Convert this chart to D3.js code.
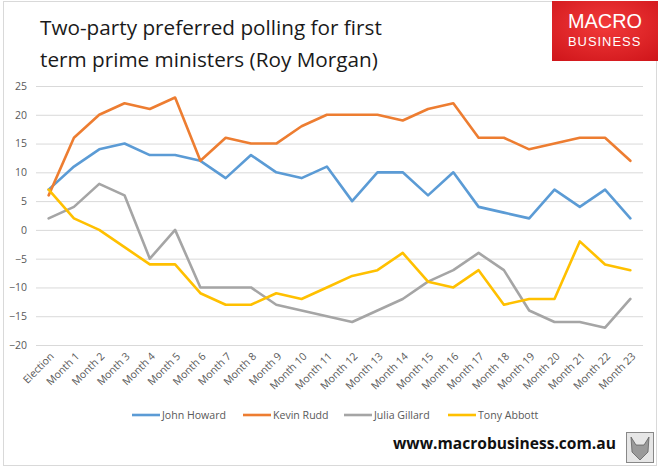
<!DOCTYPE html>
<html><head><meta charset="utf-8">
<script src="https://cdn.jsdelivr.net/npm/d3@7"></script>
<style>body{margin:0;background:#fff}svg{display:block}</style>
</head><body>
<script>
const categories = ["Election","Month 1","Month 2","Month 3","Month 4","Month 5","Month 6","Month 7","Month 8","Month 9","Month 10","Month 11","Month 12","Month 13","Month 14","Month 15","Month 16","Month 17","Month 18","Month 19","Month 20","Month 21","Month 22","Month 23"];
const howard  = [7,11,14,15,13,13,12,9,13,10,9,11,5,10,10,6,10,4,3,2,7,4,7,2];
const rudd    = [6,16,20,22,21,23,12,16,15,15,18,20,20,20,19,21,22,16,16,14,15,16,16,12];
const gillard = [2,4,8,6,-5,0,-10,-10,-10,-13,-14,-15,-16,-14,-12,-9,-7,-4,-7,-14,-16,-16,-17,-12];
const abbott  = [7,2,0,-3,-6,-6,-11,-13,-13,-11,-12,-10,-8,-7,-4,-9,-10,-7,-13,-12,-12,-2,-6,-7];
const seriesNames = ["John Howard","Kevin Rudd","Julia Gillard","Tony Abbott"];
const seriesValues = [howard, rudd, gillard, abbott];
const seriesColors = ["#5B9BD5","#ED7D31","#A5A5A5","#FFC000"];
const yTicks = [25,20,15,10,5,0,-5,-10,-15,-20];

(function(){
const W = 661, H = 468;
const svg = d3.select("body").append("svg").attr("width", W).attr("height", H);
const font = "'Open Sans', 'Noto Sans', sans-serif";

function fit(sel, width){
  const n = sel.node(); const w = n.getComputedTextLength();
  const fs = parseFloat(sel.attr("font-size"));
  sel.attr("font-size", fs * width / w);
}

svg.append("rect").attr("x",3.5).attr("y",1.5).attr("width",653).attr("height",464)
  .attr("fill","#fff").attr("stroke","#D9D9D9").attr("stroke-width",1);

const t1 = svg.append("text").attr("x",40).attr("y",35).attr("font-family",font).attr("font-size",20)
  .attr("fill","#1a1a1a").text("Two-party preferred polling for first");
fit(t1, 342);
svg.append("text").attr("x",40).attr("y",67).attr("font-family",font).attr("font-size",t1.attr("font-size"))
  .attr("fill","#1a1a1a").text("term prime ministers (Roy Morgan)");

const defs = svg.append("defs");
const grad = defs.append("radialGradient").attr("id","lg").attr("cx","50%").attr("cy","40%").attr("r","75%");
grad.append("stop").attr("offset","0%").attr("stop-color","#F23A3A");
grad.append("stop").attr("offset","100%").attr("stop-color","#D0161B");
svg.append("rect").attr("x",552).attr("y",1).attr("width",106).attr("height",60).attr("fill","url(#lg)");
const m1 = svg.append("text").attr("x",568).attr("y",28).attr("font-family","'Liberation Sans', sans-serif")
  .attr("font-size",18).attr("fill","#fff").text("MACRO");
fit(m1, 74);
const m2 = svg.append("text").attr("x",568).attr("y",46).attr("font-family","'Liberation Sans', sans-serif")
  .attr("font-size",12).attr("fill","#fff").attr("letter-spacing",1).text("BUSINESS");
fit(m2, 74);

const pl = 36, pr = 643, pt = 86, pb = 345;
const x = d3.scaleBand().domain(categories).range([pl, pr]);
const y = d3.scaleLinear().domain([-20, 25]).range([pb, pt]);

const yAxis = svg.append("g").attr("transform",`translate(${pl},0)`)
  .call(d3.axisLeft(y).tickValues(yTicks).tickSize(-(pr-pl)).tickPadding(9));
yAxis.select(".domain").remove();
yAxis.selectAll(".tick line").attr("stroke","#D9D9D9").attr("stroke-width",1);
yAxis.selectAll(".tick text").attr("font-family",font).attr("font-size",10.5).attr("fill","#595959");

const xAxis = svg.append("g").attr("transform",`translate(0,${pb})`)
  .call(d3.axisBottom(x).tickSize(0).tickPadding(0));
xAxis.select(".domain").remove();
xAxis.selectAll(".tick text").attr("font-family",font).attr("font-size",10.5).attr("fill","#595959")
  .attr("text-anchor","end").attr("dy",0).attr("transform","translate(6,12) rotate(-45)");

const line = d3.line().x((d,i)=>x(categories[i]) + x.bandwidth()/2).y(d=>y(d));
seriesValues.forEach((vals, k) => {
  svg.append("path").datum(vals).attr("d", line).attr("fill","none")
    .attr("stroke", seriesColors[k]).attr("stroke-width",2.6).attr("stroke-linejoin","round").attr("stroke-linecap","round");
});

const legX = [132, 243, 344, 448];
let legFs = null;
seriesNames.forEach((n,k)=>{
  const g = svg.append("g").attr("transform",`translate(${legX[k]},415)`);
  g.append("line").attr("x1",0).attr("x2",28).attr("y1",0).attr("y2",0).attr("stroke",seriesColors[k]).attr("stroke-width",2.6);
  const tx = g.append("text").attr("x",30).attr("y",4).attr("font-family",font).attr("font-size",legFs || 11).attr("fill","#595959").text(n);
  if (!legFs) { fit(tx, 64); legFs = tx.attr("font-size"); }
});

const wt = svg.append("text").attr("x",393).attr("y",449).attr("font-family",font).attr("font-weight","bold")
  .attr("font-size",17).attr("fill","#111").text("www.macrobusiness.com.au");
fit(wt, 223);

svg.append("rect").attr("x",626.5).attr("y",432.5).attr("width",27).attr("height",30).attr("fill","#e6e6e6").attr("stroke","#888");
svg.append("path").attr("d","M631,437 L636,445 L644,445 L649,437 L648,452 L640,460 L632,452 Z").attr("fill","#9a9a9a").attr("stroke","#555").attr("stroke-width",0.7);
})();
</script>
</body></html>
